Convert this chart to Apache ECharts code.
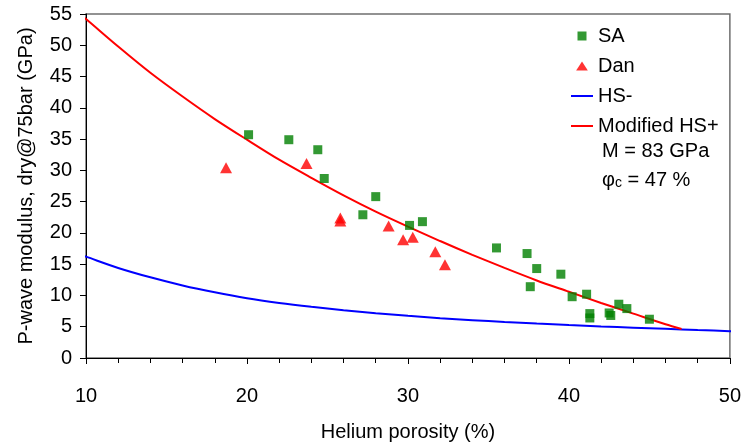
<!DOCTYPE html>
<html>
<head>
<meta charset="utf-8">
<script src="https://cdn.jsdelivr.net/npm/echarts@6/dist/echarts.min.js"></script>
<style>
  html, body { margin: 0; padding: 0; background: #fff; }
  #chart { width: 744px; height: 448px; }
</style>
</head>
<body>
<div id="chart"></div>
<script>
// Measured samples: helium porosity (%) vs dry P-wave modulus at 75 bar (GPa)
const saPorosity = [20.1, 22.6, 24.4, 24.8, 28.0, 27.2, 30.1, 30.9, 35.5, 37.4, 38.0, 37.6, 39.5, 40.2, 41.1, 41.3, 41.3, 42.5, 42.6, 43.1, 43.6, 45.0];
const saModulus  = [35.7, 34.9, 33.3, 28.7, 25.8, 22.9, 21.2, 21.8, 17.6, 16.7, 14.3, 11.4, 13.4, 9.8, 10.2, 7.1, 6.4, 7.2, 6.8, 8.6, 7.9, 6.2];

const danPorosity = [18.7, 23.7, 25.8, 25.8, 28.8, 29.7, 30.3, 31.7, 32.3];
const danModulus  = [30.4, 31.1, 22.4, 21.9, 21.1, 18.9, 19.3, 17.0, 14.9];

// Lower Hashin-Shtrikman bound
const hsMinusPorosity = [9.7, 10, 12, 14, 16, 18, 20, 22, 24, 26, 28, 30, 32, 34, 36, 38, 40, 42, 44, 46, 48, 50, 50.3];
const hsMinusModulus  = [16.45, 16.2, 14.4, 12.9, 11.6, 10.5, 9.55, 8.8, 8.18, 7.64, 7.16, 6.74, 6.37, 6.05, 5.76, 5.5, 5.26, 5.04, 4.85, 4.66, 4.47, 4.29, 4.26];

// Modified upper bound (M = 83 GPa, critical porosity 47 %)
const hsPlusPorosity = [9.7, 10, 12, 14, 16, 18, 20, 22, 24, 26, 28, 30, 32, 34, 36, 38, 40, 42, 44, 46, 47];
const hsPlusModulus  = [54.8, 54.2, 49.8, 45.6, 41.8, 38.2, 34.9, 31.7, 28.8, 26.0, 23.4, 21.0, 18.7, 16.5, 14.4, 12.4, 10.6, 8.8, 7.1, 5.4, 4.65];

const xTicks = { min: 10, max: 50, step: 10 };
const yTicks = { min: 0, max: 55, step: 5 };

const pairs = (xs, ys) => xs.map((x, i) => [x, ys[i]]);

const FONT = '"Liberation Sans", Arial, sans-serif';
const LINE_ICON = 'path://M0,0L22,0L22,2L0,2Z';

const chart = echarts.init(document.getElementById('chart'), null, { renderer: 'canvas' });

chart.setOption({
  backgroundColor: '#ffffff',
  animation: false,
  textStyle: { fontFamily: FONT, color: '#000' },
  grid: {
    left: 86, right: 10, top: 14, bottom: 90,
    show: true, borderColor: '#6f6f6f', borderWidth: 1.5, backgroundColor: 'transparent'
  },
  xAxis: {
    type: 'value',
    min: xTicks.min, max: xTicks.max, interval: xTicks.step,
    name: 'Helium porosity (%)',
    nameLocation: 'middle', nameGap: 64,
    nameTextStyle: { fontSize: 20, color: '#000', fontFamily: FONT },
    axisLine: { show: true, onZero: false, lineStyle: { color: '#000', width: 1 } },
    axisTick: { show: true, inside: false, length: 6, lineStyle: { color: '#000' } },
    minorTick: { show: true, splitNumber: 5, length: 5, lineStyle: { color: '#000' } },
    axisLabel: { fontSize: 20, color: '#000', margin: 28, fontFamily: FONT },
    splitLine: { show: false }
  },
  yAxis: {
    type: 'value',
    min: yTicks.min, max: yTicks.max, interval: yTicks.step,
    name: 'P-wave modulus, dry@75bar (GPa)',
    nameLocation: 'middle', nameGap: 50,
    nameTextStyle: { fontSize: 20, color: '#000', fontFamily: FONT },
    axisLine: { show: true, onZero: false, lineStyle: { color: '#000', width: 1 } },
    axisTick: { show: true, inside: false, length: 6, lineStyle: { color: '#000' } },
    axisLabel: { fontSize: 20, color: '#000', margin: 14, fontFamily: FONT },
    splitLine: { show: false }
  },
  legend: {
    orient: 'vertical',
    left: 566, top: 21,
    itemWidth: 22, itemHeight: 9,
    itemGap: 10,
    symbolKeepAspect: true,
    textStyle: { fontSize: 20, color: '#000', lineHeight: 20, fontFamily: FONT },
    data: [
      { name: 'SA', icon: 'path://M0,0L10,0L10,10L0,10Z' },
      { name: 'Dan', icon: 'path://M6.5,0L13,10L0,10Z' },
      { name: 'HS-', icon: LINE_ICON },
      { name: 'Modified HS+', icon: LINE_ICON }
    ]
  },
  graphic: [
    {
      type: 'text', left: 602, top: 141,
      style: { text: 'M = 83 GPa', font: '20px ' + FONT, fill: '#000' }
    },
    {
      type: 'text', left: 602, top: 170,
      style: {
        text: '{g|φ}{s|c}{g| = 47 %}',
        rich: {
          g: { fontSize: 20, fontFamily: FONT, fill: '#000' },
          s: { fontSize: 14, fontFamily: FONT, fill: '#000', verticalAlign: 'bottom', padding: [6, 0, 0, 0] }
        }
      }
    }
  ],
  series: [
    {
      name: 'HS-',
      type: 'line',
      data: pairs(hsMinusPorosity, hsMinusModulus),
      symbol: 'none',
      smooth: 0.3,
      clip: false,
      lineStyle: { color: '#0000ff', width: 2 },
      itemStyle: { color: '#0000ff' },
      z: 2
    },
    {
      name: 'Modified HS+',
      type: 'line',
      data: pairs(hsPlusPorosity, hsPlusModulus),
      symbol: 'none',
      smooth: 0.3,
      clip: false,
      lineStyle: { color: '#ff0000', width: 2 },
      itemStyle: { color: '#ff0000' },
      z: 2
    },
    {
      name: 'SA',
      type: 'scatter',
      data: pairs(saPorosity, saModulus),
      symbol: 'rect',
      symbolSize: 9,
      itemStyle: { color: '#008000' },
      z: 3
    },
    {
      name: 'Dan',
      type: 'scatter',
      data: pairs(danPorosity, danModulus),
      symbol: 'triangle',
      symbolSize: [12, 11],
      itemStyle: { color: '#ff0000' },
      z: 3
    }
  ]
});
</script>
</body>
</html>
